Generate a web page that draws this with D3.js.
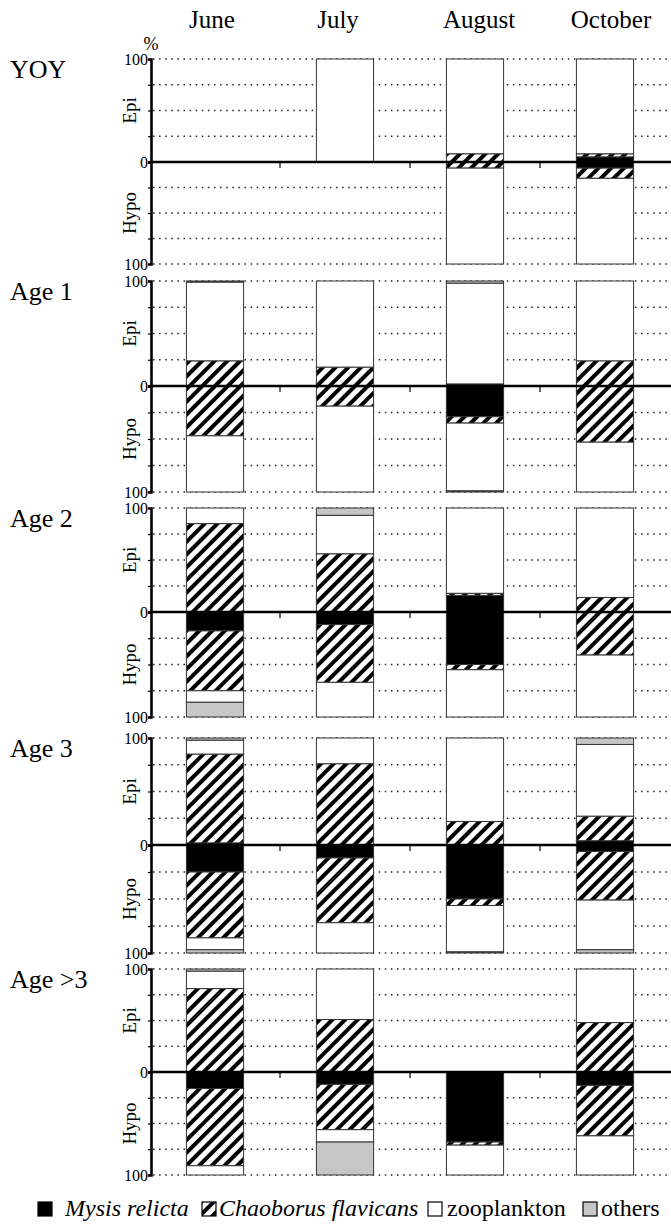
<!DOCTYPE html>
<html>
<head>
<meta charset="utf-8">
<script src="https://cdn.jsdelivr.net/npm/d3@7"></script>
<style>
  body { margin: 0; background: #fff; }
  text { font-family: "Liberation Serif", "DejaVu Serif", serif; }
</style>
</head>
<body>
<svg id="chart" width="671" height="1224"></svg>
<script>
// categories
var panels = ["YOY", "Age 1", "Age 2", "Age 3", "Age >3"];
var months = ["June", "July", "August", "October"];
var groups = ["Mysis relicta", "Chaoborus flavicans", "zooplankton", "others"];

// % of diet, rows = panels, columns = months (null = no fish caught)
// Epilimnion
var epiMysis = [
    [null, 0, 0, 5],
    [0, 0, 2, 0],
    [0, 0, 16, 0],
    [2, 0, 0, 4],
    [0, 0, null, 0]
];
var epiChaob = [
    [null, 0, 8, 3],
    [24, 18, 0, 24],
    [85, 56, 2, 14],
    [83, 76, 22, 23],
    [81, 51, null, 48]
];
var epiZoo = [
    [null, 100, 92, 92],
    [75, 82, 96, 76],
    [15, 37, 82, 86],
    [13, 24, 78, 67],
    [17, 49, null, 52]
];
var epiOther = [
    [null, 0, 0, 0],
    [1, 0, 2, 0],
    [0, 7, 0, 0],
    [2, 0, 0, 6],
    [2, 0, null, 0]
];
// Hypolimnion
var hypoMysis = [
    [null, null, 0, 6],
    [0, 0, 29, 0],
    [18, 12, 50, 0],
    [25, 12, 50, 6],
    [16, 12, 68, 13]
];
var hypoChaob = [
    [null, null, 6, 10],
    [47, 19, 6, 53],
    [57, 55, 5, 41],
    [61, 60, 6, 45],
    [75, 44, 3, 49]
];
var hypoZoo = [
    [null, null, 94, 84],
    [53, 81, 64, 47],
    [11, 33, 45, 59],
    [11, 28, 43, 46],
    [9, 12, 29, 38]
];
var hypoOther = [
    [null, null, 0, 0],
    [0, 0, 1, 0],
    [14, 0, 0, 0],
    [3, 0, 1, 3],
    [0, 32, 0, 0]
];

// layout (pixels)
var panelTop = [59, 281, 508, 738, 969];
var panelZero = [162, 386, 612, 845, 1072];
var panelBottom = [264, 492, 717, 953, 1175];
var axisX = 151;
var rightX = 671;
var serif = "'Liberation Serif', 'DejaVu Serif', serif";
var fills = ["#000", "url(#hatch)", "#fff", "#c6c6c6"];

var svg = d3.select("#chart").attr("font-family", serif);

// hatch pattern for Chaoborus
var defs = svg.append("defs");
var pat = defs.append("pattern")
    .attr("id", "hatch")
    .attr("patternUnits", "userSpaceOnUse")
    .attr("width", 9).attr("height", 9)
    .attr("patternTransform", "rotate(45)");
pat.append("rect").attr("width", 9).attr("height", 9).attr("fill", "#fff");
pat.append("rect").attr("width", 4).attr("height", 9).attr("fill", "#000");

var x = d3.scaleBand()
    .domain(months)
    .range([axisX - 1, axisX - 1 + 520])
    .paddingInner(0.56)
    .paddingOuter(0.28);

// month headings
var monthX = [212, 338, 479, 611];
svg.selectAll(".month")
    .data(months)
    .enter()
    .append("text")
    .attr("class", "month")
    .attr("x", function (d, i) { return monthX[i]; })
    .attr("y", 28)
    .attr("text-anchor", "middle")
    .attr("font-family", serif)
    .attr("font-size", 25)
    .text(function (d) { return d; });

svg.append("text")
    .attr("x", axisX)
    .attr("y", 50)
    .attr("text-anchor", "middle")
    .attr("font-family", serif)
    .attr("font-size", 18)
    .text("%");

panels.forEach(function (name, p) {
    var g = svg.append("g");
    var yEpi = d3.scaleLinear().domain([0, 100]).range([panelZero[p], panelTop[p]]);
    var yHypo = d3.scaleLinear().domain([0, 100]).range([panelZero[p], panelBottom[p]]);

    // panel label
    g.append("text")
        .attr("x", 10)
        .attr("y", panelTop[p] + 19)
        .attr("font-family", serif)
        .attr("font-size", 26)
        .text(name);

    // dotted grid
    [25, 50, 75, 100].forEach(function (v) {
        [yEpi(v), yHypo(v)].forEach(function (yy) {
            g.append("line")
                .attr("x1", axisX + 2).attr("x2", rightX)
                .attr("y1", yy).attr("y2", yy)
                .attr("stroke", "#222")
                .attr("stroke-width", 1.3)
                .attr("stroke-dasharray", "1.5,4.6");
        });
    });

    // stacked bars, outward from zero
    var epiRows = [epiMysis[p], epiChaob[p], epiZoo[p], epiOther[p]];
    var hypoRows = [hypoMysis[p], hypoChaob[p], hypoZoo[p], hypoOther[p]];
    months.forEach(function (m, i) {
        var acc = 0;
        epiRows.forEach(function (row, k) {
            var v = row[i];
            if (v == null || v <= 0) { return; }
            g.append("rect")
                .attr("x", x(m)).attr("width", x.bandwidth())
                .attr("y", yEpi(acc + v))
                .attr("height", yEpi(acc) - yEpi(acc + v))
                .attr("fill", fills[k])
                .attr("stroke", "#333").attr("stroke-width", 1);
            acc += v;
        });
        acc = 0;
        hypoRows.forEach(function (row, k) {
            var v = row[i];
            if (v == null || v <= 0) { return; }
            g.append("rect")
                .attr("x", x(m)).attr("width", x.bandwidth())
                .attr("y", yHypo(acc))
                .attr("height", yHypo(acc + v) - yHypo(acc))
                .attr("fill", fills[k])
                .attr("stroke", "#333").attr("stroke-width", 1);
            acc += v;
        });
    });

    // zero line with category ticks
    g.append("line")
        .attr("x1", axisX).attr("x2", rightX)
        .attr("y1", panelZero[p]).attr("y2", panelZero[p])
        .attr("stroke", "#000").attr("stroke-width", 2.6);
    for (var t = 1; t < 4; t++) {
        var tx = axisX - 1 + x.step() * t;
        g.append("line")
            .attr("x1", tx).attr("x2", tx)
            .attr("y1", panelZero[p]).attr("y2", panelZero[p] + 6)
            .attr("stroke", "#000").attr("stroke-width", 1.2);
    }

    // y axis (epi up, hypo down)
    var fmt = function (d) { return (d === 0 || d === 100) ? d : ""; };
    var axE = g.append("g")
        .attr("transform", "translate(" + axisX + ",0)")
        .call(d3.axisLeft(yEpi).tickValues([0, 25, 50, 75, 100]).tickSize(3).tickFormat(fmt));
    var axH = g.append("g")
        .attr("transform", "translate(" + axisX + ",0)")
        .call(d3.axisLeft(yHypo).tickValues([25, 50, 75, 100]).tickSize(3).tickFormat(fmt));
    [axE, axH].forEach(function (ax) {
        ax.attr("font-family", serif).attr("font-size", 16);
        ax.select(".domain").attr("stroke", "#000").attr("stroke-width", 2.6);
        ax.selectAll(".tick line").attr("stroke", "#000").attr("stroke-width", 1.2);
        ax.selectAll(".tick text")
            .attr("x", -3)
            .attr("fill", "#000");
    });

    // Epi / Hypo titles
    var cyE = (panelTop[p] + panelZero[p]) / 2;
    var cyH = (panelZero[p] + panelBottom[p]) / 2;
    g.append("text")
        .attr("transform", "translate(136," + cyE + ") rotate(-90)")
        .attr("text-anchor", "middle")
        .attr("font-family", serif)
        .attr("font-size", 19)
        .text("Epi");
    g.append("text")
        .attr("transform", "translate(136," + cyH + ") rotate(-90)")
        .attr("text-anchor", "middle")
        .attr("font-family", serif)
        .attr("font-size", 19)
        .text("Hypo");
});

// legend, swatch positions
var legendX = [38, 202, 428, 583];
var legendGap = [27, 17, 19, 18];
var ly = 1216;
var lg = svg.append("g");
groups.forEach(function (name, k) {
    lg.append("rect")
        .attr("x", legendX[k]).attr("y", ly - 14)
        .attr("width", 14).attr("height", 14)
        .attr("fill", fills[k])
        .attr("stroke", "#000").attr("stroke-width", 1.2);
    lg.append("text")
        .attr("x", legendX[k] + legendGap[k]).attr("y", ly)
        .attr("font-family", serif)
        .attr("font-size", 24)
        .attr("font-style", k < 2 ? "italic" : "normal")
        .text(name);
});
</script>
</body>
</html>
